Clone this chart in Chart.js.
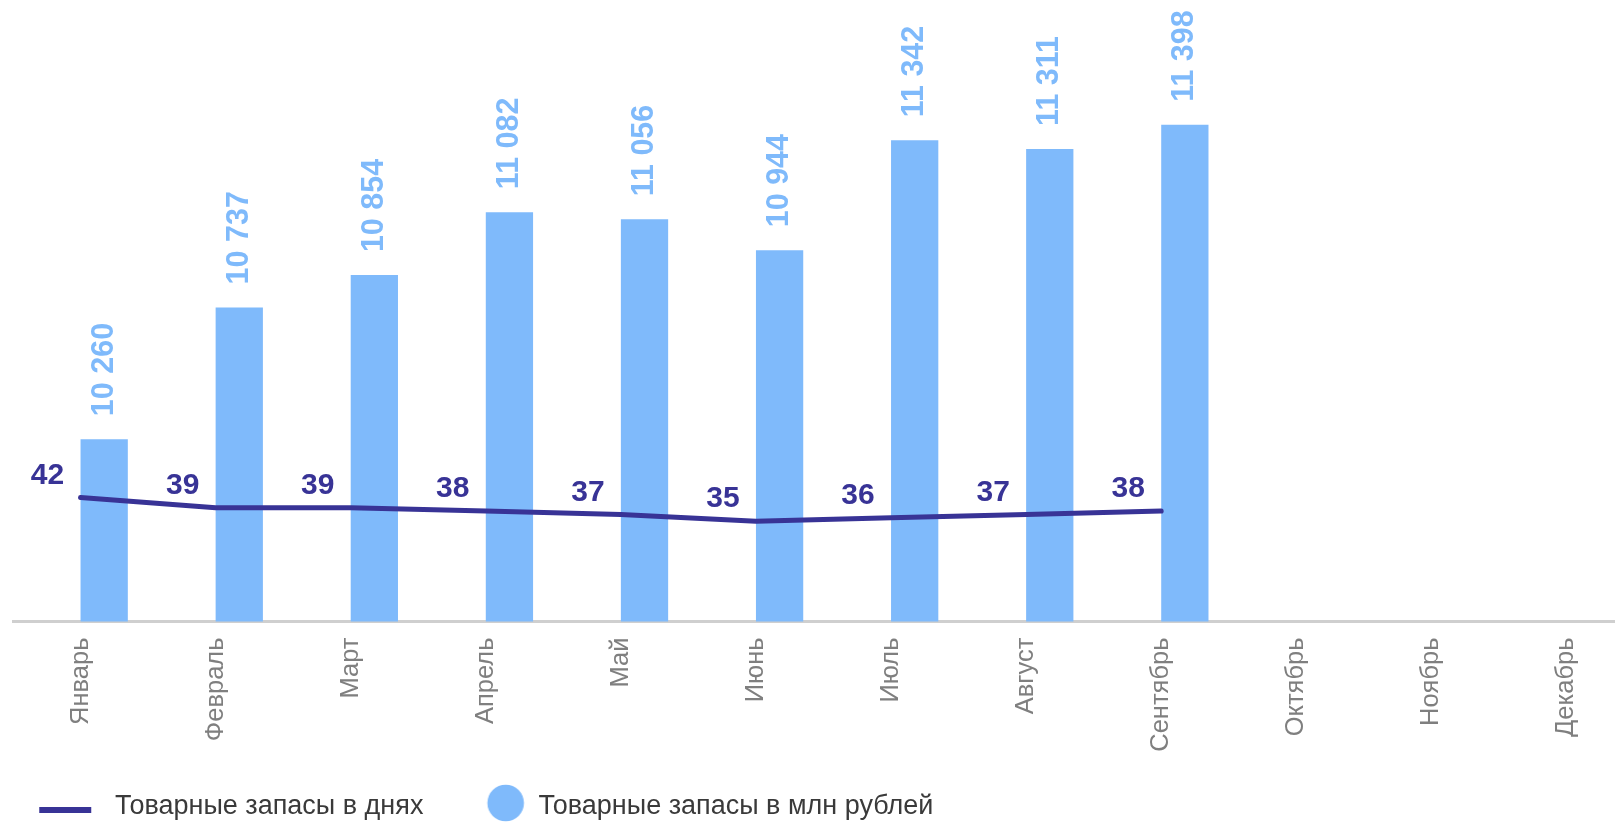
<!DOCTYPE html>
<html>
<head>
<meta charset="utf-8">
<script src="https://cdn.jsdelivr.net/npm/chart.js@4.4.1/dist/chart.umd.min.js"></script>
<style>
  html, body { margin: 0; padding: 0; overflow: hidden; background: #ffffff; }
  #wrap { position: relative; width: 1634px; height: 822px; }
</style>
</head>
<body>
<div id="wrap"><canvas id="chart"></canvas></div>
<script>
// ---- data ----
const months = ['Январь', 'Февраль', 'Март', 'Апрель', 'Май', 'Июнь', 'Июль', 'Август', 'Сентябрь', 'Октябрь', 'Ноябрь', 'Декабрь'];
const stockDays = [42, 39, 39, 38, 37, 35, 36, 37, 38, null, null, null];
const stockMlnRub = [10260, 10737, 10854, 11082, 11056, 10944, 11342, 11311, 11398, null, null, null];
const spacerSeries = [null, null, null, null, null, null, null, null, null, null, null, null];
const seriesNames = ['Товарные запасы в днях', 'Товарные запасы в млн рублей'];

// ---- styles ----
const LINE_COLOR = '#383396';
const BAR_COLOR = '#7FBAFB';
const FONT = '"Liberation Sans", Arial, sans-serif';

function fmt(v) {
  return String(v).replace(/\B(?=(\d{3})+(?!\d))/g, '\u00a0');
}

function lineIcon() {
  const c = document.createElement('canvas');
  c.width = 60; c.height = 14;
  const g = c.getContext('2d');
  g.fillStyle = LINE_COLOR;
  g.fillRect(4, 7, 52, 6);
  return c;
}
function circleIcon() {
  const c = document.createElement('canvas');
  c.width = 82; c.height = 46;
  const g = c.getContext('2d');
  g.fillStyle = BAR_COLOR;
  g.beginPath();
  g.arc(58, 19, 18.3, 0, Math.PI * 2);
  g.fill();
  return c;
}

const valueLabels = {
  id: 'valueLabels',
  afterDatasetsDraw(chart) {
    const ctx = chart.ctx;
    ctx.save();
    ctx.font = 'bold 30.5px ' + FONT;
    // bar labels (rotated)
    ctx.fillStyle = BAR_COLOR;
    ctx.textAlign = 'left';
    ctx.textBaseline = 'middle';
    chart.getDatasetMeta(2).data.forEach((el, i) => {
      const v = stockMlnRub[i];
      if (v === null || v === undefined) return;
      ctx.save();
      ctx.translate(el.x, el.y - 23);
      ctx.rotate(-Math.PI / 2);
      ctx.fillText(fmt(v), 0, 0);
      ctx.restore();
    });
    // line labels
    ctx.font = 'bold 30px ' + FONT;
    ctx.fillStyle = LINE_COLOR;
    ctx.textAlign = 'center';
    chart.getDatasetMeta(0).data.forEach((el, i) => {
      const v = stockDays[i];
      if (v === null || v === undefined) return;
      ctx.fillText(String(v), el.x - 33, el.y - 22);
    });
    ctx.restore();
  }
};

const legendLine = lineIcon();
const legendCircle = circleIcon();

new Chart(document.getElementById('chart'), {
  data: {
    labels: months,
    datasets: [
      {
        type: 'line',
        label: seriesNames[0],
        data: stockDays,
        yAxisID: 'yDays',
        borderColor: LINE_COLOR,
        backgroundColor: LINE_COLOR,
        borderWidth: 5,
        pointRadius: 0,
        pointHoverRadius: 0,
        tension: 0,
        borderCapStyle: 'round',
        borderJoinStyle: 'round',
        fill: false
      },
      {
        type: 'bar',
        label: '',
        data: spacerSeries,
        yAxisID: 'yRub',
        backgroundColor: 'rgba(0,0,0,0)'
      },
      {
        type: 'bar',
        label: seriesNames[1],
        data: stockMlnRub,
        yAxisID: 'yRub',
        backgroundColor: BAR_COLOR,
        borderWidth: 0
      }
    ]
  },
  options: {
    responsive: true,
    maintainAspectRatio: false,
    animation: false,
    devicePixelRatio: 1,
    layout: { padding: { left: 0, right: 0, top: 0, bottom: -8.5 } },
    datasets: { bar: { categoryPercentage: 0.7, barPercentage: 1.0 } },
    scales: {
      x: {
        grid: { display: false },
        border: { display: true, color: '#cfcfcf', width: 3 },
        ticks: {
          autoSkip: false,
          minRotation: 90,
          maxRotation: 90,
          padding: 8,
          color: '#7f7f7f',
          font: { family: FONT, size: 25.5 }
        },
        afterFit(scale) { scale.height = 143; }
      },
      yRub: {
        type: 'linear',
        position: 'left',
        display: true,
        min: 9600,
        max: 11850,
        grid: { display: false },
        border: { display: false },
        ticks: { display: false },
        afterFit(scale) { scale.width = 13; }
      },
      yDays: { type: 'linear', position: 'right', display: false, min: 5.4, max: 188.8 }
    },
    plugins: {
      tooltip: { enabled: false },
      legend: {
        position: 'bottom',
        align: 'start',
        labels: {
          usePointStyle: true,
          pointStyleWidth: 72.5,
          padding: 29,
          color: '#3a3a3a',
          font: { family: FONT, size: 27 },
          generateLabels() {
            return [
              { text: seriesNames[0], pointStyle: legendLine, fillStyle: LINE_COLOR, strokeStyle: 'rgba(0,0,0,0)', lineWidth: 0, hidden: false, datasetIndex: 0, fontColor: '#3a3a3a' },
              { text: seriesNames[1], pointStyle: legendCircle, fillStyle: BAR_COLOR, strokeStyle: 'rgba(0,0,0,0)', lineWidth: 0, hidden: false, datasetIndex: 2, fontColor: '#3a3a3a' }
            ];
          }
        }
      }
    }
  },
  plugins: [valueLabels]
});
</script>
</body>
</html>
